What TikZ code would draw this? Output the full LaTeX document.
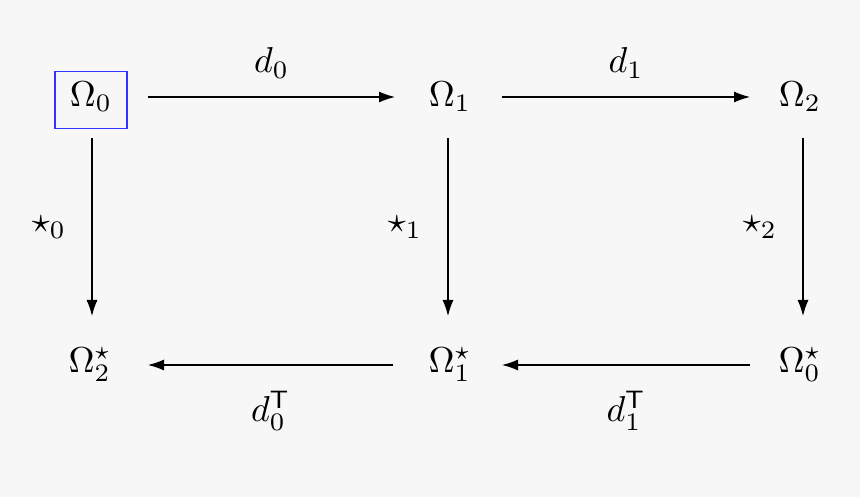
\documentclass[tikz,border=0pt]{standalone}
\usepackage{amsmath}
\usetikzlibrary{arrows.meta}
\begin{document}
\begin{tikzpicture}[x=1pt,y=-1pt,
  arr/.style={-{Latex[length=16pt,width=11pt]}, line width=1.2pt},
  txt/.style={scale=3.6, inner sep=0.6pt}]
\fill[white!97!black] (0,0) rectangle (860,497);
\useasboundingbox (0,0) rectangle (860,497);
\node[draw=blue!80!white, line width=1.6pt, minimum width=72pt, minimum height=57pt] (a0) at (91,100) {};
\node[txt] (a0t) at (91,97) {$\Omega_0$};
\node[txt] (a1) at (450,97) {$\Omega_1$};
\node[txt] (a2) at (800,97) {$\Omega_2$};
\node[txt] (b2) at (90,365) {$\Omega_2^\star$};
\node[txt] (b1) at (450,365) {$\Omega_1^\star$};
\node[txt] (b0) at (800,365) {$\Omega_0^\star$};
\coordinate (t0s) at (148,97); \coordinate (t0e) at (395,97);
\coordinate (t1s) at (502,97); \coordinate (t1e) at (750,97);
\draw[arr] (t0s) -- node[txt, above=4pt] {$d_0$} (t0e);
\draw[arr] (t1s) -- node[txt, above=4pt] {$d_1$} (t1e);
\coordinate (v0s) at (92,138); \coordinate (v0e) at (92,316);
\coordinate (v1s) at (448,138); \coordinate (v1e) at (448,316);
\coordinate (v2s) at (803,138); \coordinate (v2e) at (803,316);
\draw[arr] (v0s) -- node[txt, left=6pt] {$\star_0$} (v0e);
\draw[arr] (v1s) -- node[txt, left=6pt] {$\star_1$} (v1e);
\draw[arr] (v2s) -- node[txt, left=6pt] {$\star_2$} (v2e);
\coordinate (h1s) at (750,365); \coordinate (h1e) at (502,365);
\coordinate (h0s) at (393,365); \coordinate (h0e) at (148,365);
\draw[arr] (h1s) -- node[txt, below=6pt] {$d_1^{\mathsf{T}}$} (h1e);
\draw[arr] (h0s) -- node[txt, below=6pt] {$d_0^{\mathsf{T}}$} (h0e);
\end{tikzpicture}
\end{document}
